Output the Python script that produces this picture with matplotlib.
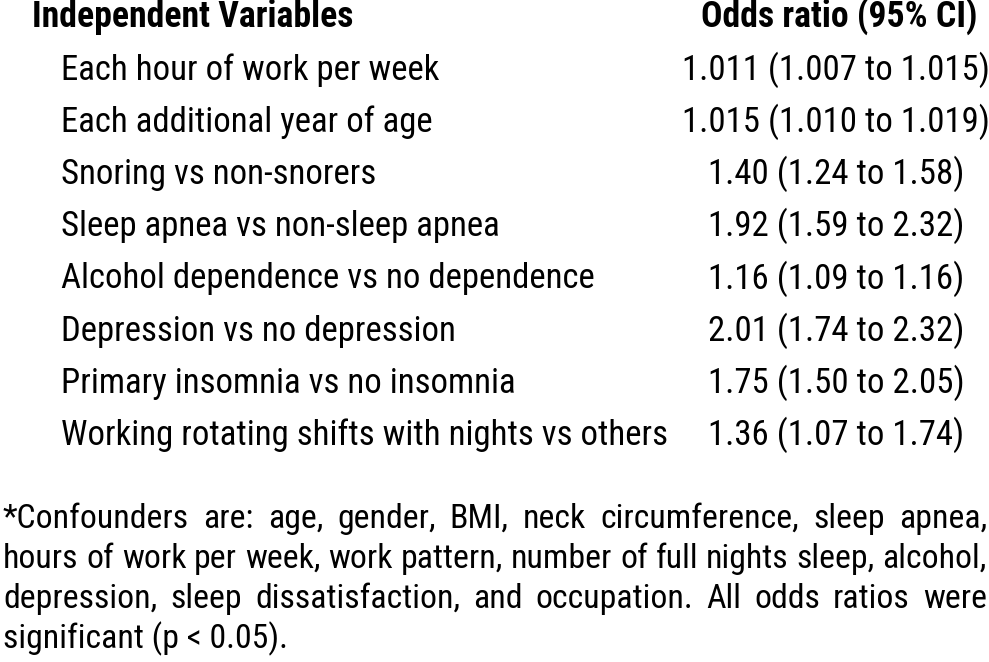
import matplotlib
matplotlib.use("Agg")
import matplotlib.pyplot as plt

W, H = 989, 662
DPI = 100

header_left = "Independent Variables"
header_right = "Odds ratio (95% CI)"
variables = [
    "Each hour of work per week",
    "Each additional year of age",
    "Snoring vs non-snorers",
    "Sleep apnea vs non-sleep apnea",
    "Alcohol dependence vs no dependence",
    "Depression vs no depression",
    "Primary insomnia vs no insomnia",
    "Working rotating shifts with nights vs others",
]
odds_ratios = [
    "1.011 (1.007 to 1.015)",
    "1.015 (1.010 to 1.019)",
    "1.40 (1.24 to 1.58)",
    "1.92 (1.59 to 2.32)",
    "1.16 (1.09 to 1.16)",
    "2.01 (1.74 to 2.32)",
    "1.75 (1.50 to 2.05)",
    "1.36 (1.07 to 1.74)",
]
footnote_lines = [
    "*Confounders are: age, gender, BMI, neck circumference, sleep apnea,",
    "hours of work per week, work pattern, number of full nights sleep, alcohol,",
    "depression, sleep dissatisfaction, and occupation. All odds ratios were",
    "significant (p < 0.05).",
]

FAM = ["Roboto Condensed", "DejaVu Sans"]

fig = plt.figure(figsize=(W / DPI, H / DPI), dpi=DPI)
fig.patch.set_facecolor("white")
renderer = fig.canvas.get_renderer()


def px(x, y):
    return x / W, 1 - y / H


def put(x, y, s, size, weight="normal", ha="left"):
    return fig.text(*px(x, y), s, fontsize=size, fontweight=weight, family=FAM,
                    ha=ha, va="baseline", color="black")


def width(s, size, weight="normal"):
    t = fig.text(0, 0, s, fontsize=size, fontweight=weight, family=FAM)
    w = t.get_window_extent(renderer).width
    t.remove()
    return w


def fit(s, target, weight="normal", base=24.0):
    return base * target / width(s, base, weight)


HS = fit(header_left, 323, "bold")
RS = fit(variables[0], 379)
FS = fit(footnote_lines[1], 983)

put(32, 27, header_left, HS, "bold")
put(839, 27, header_right, HS, "bold", ha="center")

base0 = 80
step = 52.1
for i, (v, o) in enumerate(zip(variables, odds_ratios)):
    y = base0 + i * step
    put(61, y, v, RS)
    put(836, y, o, RS, ha="center")

fb0 = 528
fstep = 40
left, right = 3, 987
for i, line in enumerate(footnote_lines):
    y = fb0 + i * fstep
    if i == len(footnote_lines) - 1:
        put(left, y, line, FS)
        continue
    words = line.split(" ")
    ws = [width(w, FS) for w in words]
    gap = (right - left - sum(ws)) / (len(words) - 1)
    x = left
    for w, wd in zip(words, ws):
        put(x, y, w, FS)
        x += wd + gap

fig.savefig("out.png", dpi=DPI, facecolor="white")
